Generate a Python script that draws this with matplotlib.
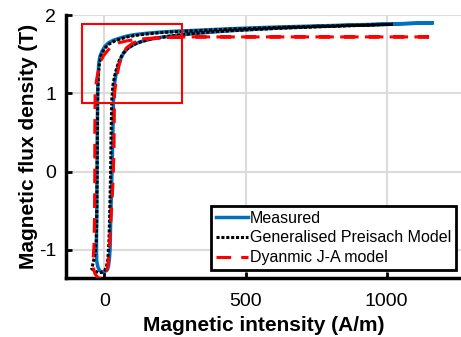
import matplotlib
matplotlib.use("Agg")
import matplotlib.pyplot as plt
from matplotlib.patches import Rectangle

plt.rcParams['font.family'] = ['Liberation Sans', 'DejaVu Sans']
plt.rcParams['axes.unicode_minus'] = False

# Measured loop (H in A/m, B in T)
meas_H = [1160, 1000, 800, 600, 450, 330, 220, 160, 125, 100, 79, 55, 30, 15, 2, -8, -16, -20, -22,
          -24, -25, -26, -27, -28, -28, -27, -23, -17, -10, -3, 5, 11, 15, 18,
          20, 23, 27, 30, 32, 35, 40, 47, 55, 66, 80, 100, 125, 160, 200, 270, 340, 450, 600, 800, 1000, 1160]
meas_B = [1.90, 1.885, 1.865, 1.845, 1.825, 1.805, 1.787, 1.77, 1.757, 1.745, 1.73, 1.705, 1.675, 1.645, 1.60, 1.54, 1.47, 1.38, 1.25,
          1.0, 0.5, 0.0, -0.5, -0.9, -1.05, -1.15, -1.22, -1.265, -1.28, -1.28, -1.27, -1.25, -1.20, -1.10,
          -1.0, -0.5, 0.0, 0.5, 0.9, 1.1, 1.22, 1.32, 1.42, 1.50, 1.565, 1.615, 1.655, 1.69, 1.715, 1.745, 1.77, 1.80, 1.83, 1.86, 1.882, 1.90]

# Generalised Preisach model
gpm_H = [1022, 850, 650, 450, 300, 200, 130, 80, 40, 15, 0, -12, -18, -22, -24, -25, -26, -27, -29, -33, -40, -45,
         -35, -22, -10, 0, 7, 12, 16, 19, 22, 24, 26, 30, 36, 44, 54, 66, 82, 105, 135, 170, 220, 290, 380, 500, 650, 850, 1022]
gpm_B = [1.88, 1.865, 1.845, 1.82, 1.795, 1.775, 1.75, 1.72, 1.675, 1.625, 1.57, 1.48, 1.37, 1.2, 0.9, 0.4, -0.1, -0.6, -0.9, -1.05, -1.17, -1.24,
         -1.27, -1.29, -1.29, -1.27, -1.22, -1.12, -0.9, -0.5, 0.0, 0.5, 0.9, 1.1, 1.22, 1.33, 1.43, 1.51, 1.575, 1.625, 1.665, 1.695, 1.725, 1.755, 1.785, 1.81, 1.835, 1.86, 1.88]

# Dynamic J-A model
ja_H = [1150, 900, 600, 400, 270, 170, 120, 80, 50, 30, 8, -5, -16, -22, -28, -33, -34, -34, -35, -37, -40,
        -38, -33, -24, -12, -2, 6, 12, 16, 19, 25, 31, 34, 35, 36, 40, 46, 52, 62, 78, 100, 130, 170, 230, 300, 600, 900, 1150]
ja_B = [1.72, 1.72, 1.72, 1.72, 1.72, 1.705, 1.69, 1.67, 1.645, 1.62, 1.53, 1.47, 1.38, 1.28, 1.17, 1.0, 0.5, 0.0, -0.6, -0.95, -1.12,
        -1.25, -1.31, -1.35, -1.37, -1.36, -1.31, -1.2, -1.05, -0.9, -0.5, -0.1, 0.3, 0.7, 1.0, 1.12, 1.25, 1.36, 1.47, 1.58, 1.64, 1.68, 1.70, 1.715, 1.72, 1.72, 1.72, 1.72]

zoom_box = (-81, 0.88, 357, 1.005)  # x, y, width, height

x_ticks = [0, 500, 1000]
y_ticks = [-1, 0, 1, 2]

fig = plt.figure(figsize=(4.61, 3.37), dpi=100)
ax = fig.add_axes([66/461, 1 - 278/337, 1 - 66/461, (278 - 15)/337])

ax.plot(meas_H, meas_B, color='#0072BD', lw=2.5, label='Measured', zorder=3)
ax.plot(gpm_H, gpm_B, color='black', lw=2.2, linestyle=(0, (1, 0.6)), label='Generalised Preisach Model', zorder=4)
ax.plot(ja_H, ja_B, color='red', lw=2.2, linestyle=(0, (4.8, 3.3)), label='Dyanmic J-A model', zorder=5)

ax.add_patch(Rectangle(zoom_box[:2], zoom_box[2], zoom_box[3], fill=False, edgecolor='red', lw=1.5, zorder=6))

ax.set_xlim(-136, 1263)
ax.set_ylim(-1.36, 2.0)
ax.set_xticks(x_ticks)
ax.set_yticks(y_ticks)
ax.set_xticklabels([str(v) for v in x_ticks])
ax.set_yticklabels([str(v) for v in y_ticks])
ax.grid(True, color='#dcdcdc', lw=1.5)
ax.set_axisbelow(True)
for s in ['top', 'right']:
    ax.spines[s].set_visible(False)
for s in ['left', 'bottom']:
    ax.spines[s].set_linewidth(2.5)
ax.tick_params(direction='in', length=4, width=2, labelsize=14)
ax.tick_params(axis='x', pad=11)
ax.tick_params(axis='y', pad=7)

ax.set_xlabel('Magnetic intensity (A/m)', fontsize=15, fontweight='bold', labelpad=4)
ax.set_ylabel('Magnetic flux density (T)', fontsize=15, fontweight='bold', labelpad=1)

leg = ax.legend(loc='lower left', bbox_to_anchor=(211/461, 1 - 270/337), bbox_transform=fig.transFigure,
                fontsize=11.5, handlelength=2.0, handletextpad=0.15, borderpad=0.3, labelspacing=0.3,
                borderaxespad=0, fancybox=False, framealpha=1, edgecolor='black')
leg.get_frame().set_linewidth(2)

fig.savefig('out.png', dpi=100)
